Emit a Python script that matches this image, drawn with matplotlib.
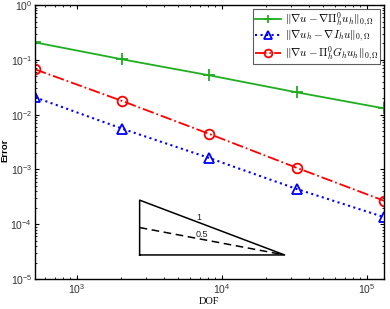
import matplotlib
matplotlib.use("Agg")
import matplotlib.pyplot as plt
import numpy as np

plt.rcParams['mathtext.fontset'] = 'cm'
plt.rcParams['font.family'] = ['Liberation Sans', 'DejaVu Sans']

dof = [512, 2048, 8192, 32768, 131072]
err_proj = [0.208, 0.102, 0.052, 0.0255, 0.0130]
err_interp = [0.0207, 0.00553, 0.00161, 0.000439, 0.000135]
err_recov = [0.0671, 0.0177, 0.00443, 0.00107, 0.000268]

labels = [r'$\|\nabla u-\nabla\Pi_h^0 u_h\|_{0,\Omega}$',
          r'$\|\nabla u_h-\nabla I_h u\|_{0,\Omega}$',
          r'$\|\nabla u-\Pi_h^0 G_h u_h\|_{0,\Omega}$']

# slope triangle
tri_x = [2700, 27000]
tri_ybase = 2.75e-5
slopes = [1.0, 0.5]
slope_labels = ['1', '0.5']

fig = plt.figure(figsize=(3.9, 3.09), dpi=100)
ax = fig.add_axes([0.0897, 0.097, 0.8949, 0.8868])

green = '#1fae1f'
ax.loglog(dof, err_proj, '-', color=green, lw=1.3, marker='+', ms=8, mew=1.3, label=labels[0])
ax.loglog(dof, err_interp, ':', color='#0000ff', lw=1.5, marker='^', ms=7, mew=1.3,
          mfc='none', label=labels[1])
ax.loglog(dof, err_recov, '-.', color='#ff0000', lw=1.3, marker='o', ms=7, mew=1.3,
          mfc='none', label=labels[2])

# triangle
x0, x1 = tri_x
ratio = x1 / x0
ytop1 = tri_ybase * ratio ** slopes[0]
ytop2 = tri_ybase * ratio ** slopes[1]
ax.plot([x0, x0, x1, x0], [tri_ybase, ytop1, tri_ybase, tri_ybase], 'k-', lw=1.1)
ax.plot([x0, x1], [ytop2, tri_ybase], 'k--', lw=1.1, dashes=(5, 3))
ax.text(6900, 1.35e-4, slope_labels[0], fontsize=6.5, ha='center', va='center', color='#222222')
ax.text(7300, 6.4e-5, slope_labels[1], fontsize=6.5, ha='center', va='center', color='#222222')

ax.set_xlim(dof[0], dof[-1])
ax.set_ylim(1e-5, 1e0)

ax.tick_params(which='both', direction='in', top=True, right=True, labelsize=7.5,
               labelcolor='#333333')
ax.tick_params(which='major', length=3, width=0.8, pad=2)
ax.tick_params(which='minor', length=1.6, width=0.6)
for s in ax.spines.values():
    s.set_linewidth(1.0)

ax.set_xlabel('DOF', fontsize=7.5, family='Liberation Serif', labelpad=1)
ax.set_ylabel('Error', fontsize=6.8, fontweight='bold')
ax.yaxis.set_label_coords(-0.074, 0.47)

leg = ax.legend(loc='upper right', fontsize=8.0, frameon=True, fancybox=False,
                edgecolor='#333333', handlelength=2.4, handletextpad=0.3,
                borderpad=0.1, labelspacing=0.0, borderaxespad=0.4,
                markerscale=0.8)
leg.get_frame().set_linewidth(0.8)

fig.savefig('out.png', dpi=100)
